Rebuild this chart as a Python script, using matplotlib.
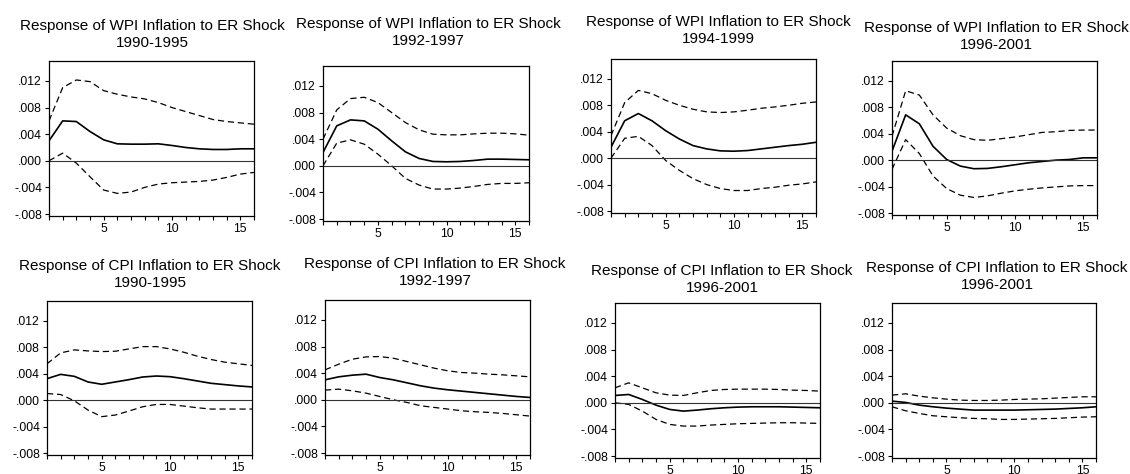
import numpy as np
import matplotlib
matplotlib.use("Agg")
import matplotlib.pyplot as plt
from matplotlib.ticker import FixedLocator, FuncFormatter

plt.rcParams['font.family'] = ['Liberation Sans', 'DejaVu Sans']

periods = np.arange(1, 17)

titles = [
    "Response of WPI Inflation to ER Shock\n1990-1995",
    "Response of WPI Inflation to ER Shock\n1992-1997",
    "Response of WPI Inflation to ER Shock\n1994-1999",
    "Response of WPI Inflation to ER Shock\n1996-2001",
    "Response of CPI Inflation to ER Shock\n1990-1995",
    "Response of CPI Inflation to ER Shock\n1992-1997",
    "Response of CPI Inflation to ER Shock\n1996-2001",
    "Response of CPI Inflation to ER Shock\n1996-2001",
]

# impulse responses (point estimate, upper band, lower band)
wpi_9095 = [0.0030, 0.0060, 0.0059, 0.0044, 0.00315, 0.00255, 0.0025, 0.0025,
            0.00255, 0.0023, 0.0020, 0.0018, 0.0017, 0.0017, 0.0018, 0.0018]
wpi_9095_hi = [0.0060, 0.0110, 0.01215, 0.0119, 0.01055, 0.0100, 0.0096, 0.0093,
               0.00875, 0.0080, 0.0074, 0.0068, 0.0062, 0.0059, 0.0057, 0.0055]
wpi_9095_lo = [0.0000, 0.00115, -0.00035, -0.0024, -0.0044, -0.0049, -0.0047, -0.0040,
               -0.0035, -0.0033, -0.0032, -0.0031, -0.0029, -0.0025, -0.0020, -0.00175]

wpi_9297 = [0.0020, 0.0060, 0.0069, 0.00675, 0.0055, 0.00375, 0.0021, 0.0011,
            0.00065, 0.0006, 0.00065, 0.0008, 0.0010, 0.0010, 0.00095, 0.0009]
wpi_9297_hi = [0.0040, 0.0084, 0.0101, 0.0103, 0.0095, 0.0080, 0.0065, 0.0054,
               0.00475, 0.00465, 0.00465, 0.0048, 0.0049, 0.0049, 0.0048, 0.0046]
wpi_9297_lo = [0.0000, 0.0034, 0.0039, 0.00325, 0.00175, 0.0000, -0.0019, -0.0029,
               -0.0035, -0.0035, -0.00335, -0.0031, -0.0028, -0.00265, -0.00265, -0.00255]

wpi_9499 = [0.00165, 0.00565, 0.00675, 0.00565, 0.00415, 0.0029, 0.0019, 0.0014,
            0.0011, 0.00105, 0.00115, 0.0014, 0.00165, 0.0019, 0.0021, 0.0024]
wpi_9499_hi = [0.0034, 0.0084, 0.01025, 0.00975, 0.00875, 0.0080, 0.0074, 0.0070,
               0.0069, 0.0070, 0.00725, 0.00755, 0.00775, 0.0080, 0.0083, 0.0085]
wpi_9499_lo = [0.0000, 0.0030, 0.0033, 0.0019, -0.00035, -0.00185, -0.0031, -0.0040,
               -0.0046, -0.0049, -0.0049, -0.0046, -0.0044, -0.0041, -0.0039, -0.0036]

wpi_9601 = [0.00135, 0.00685, 0.0055, 0.0021, 0.0001, -0.0009, -0.0013, -0.00125,
            -0.0010, -0.0007, -0.0004, -0.0002, 0.0000, 0.0001, 0.00035, 0.00035]
wpi_9601_hi = [0.0036, 0.0105, 0.00985, 0.00685, 0.00485, 0.0037, 0.0031, 0.0030,
               0.00325, 0.0035, 0.00385, 0.0042, 0.0043, 0.0045, 0.00455, 0.00455]
wpi_9601_lo = [-0.0014, 0.0031, 0.0010, -0.0024, -0.0043, -0.0053, -0.00565, -0.0054,
               -0.0050, -0.00465, -0.0044, -0.0042, -0.00405, -0.0039, -0.00385, -0.00385]

cpi_9095 = [0.00325, 0.0039, 0.0036, 0.00275, 0.0024, 0.00275, 0.0031, 0.0035,
            0.00365, 0.00355, 0.00325, 0.0029, 0.00255, 0.00235, 0.00215, 0.0020]
cpi_9095_hi = [0.0055, 0.00715, 0.0076, 0.00745, 0.00735, 0.0074, 0.00775, 0.0081,
               0.0081, 0.00775, 0.00725, 0.00665, 0.00615, 0.00575, 0.0055, 0.00525]
cpi_9095_lo = [0.0010, 0.00085, -0.0001, -0.0015, -0.0025, -0.00225, -0.00165, -0.0010,
               -0.00065, -0.00065, -0.0009, -0.00115, -0.00135, -0.00135, -0.00135, -0.00135]

cpi_9297 = [0.0030, 0.00345, 0.0037, 0.00385, 0.00335, 0.0030, 0.00255, 0.0021,
            0.00175, 0.0015, 0.0013, 0.0011, 0.0009, 0.0007, 0.0005, 0.00035]
cpi_9297_hi = [0.0045, 0.00535, 0.0061, 0.00645, 0.0065, 0.00625, 0.00575, 0.00525,
               0.00475, 0.00435, 0.0041, 0.0040, 0.00385, 0.00375, 0.0036, 0.00345]
cpi_9297_lo = [0.00145, 0.0016, 0.00135, 0.0010, 0.0005, 0.0000, -0.0004, -0.0009,
               -0.00115, -0.0014, -0.00165, -0.0018, -0.0019, -0.00205, -0.00225, -0.00245]

cpi_9601a = [0.0011, 0.00125, 0.0005, -0.00035, -0.0010, -0.00125, -0.0011, -0.0009,
             -0.00075, -0.00065, -0.0006, -0.0006, -0.0006, -0.00065, -0.0007, -0.00075]
cpi_9601a_hi = [0.00225, 0.0030, 0.00225, 0.0015, 0.00115, 0.0011, 0.0015, 0.00185,
                0.0020, 0.00205, 0.00205, 0.00205, 0.0020, 0.0019, 0.00185, 0.00175]
cpi_9601a_lo = [0.0000, -0.00025, -0.00125, -0.0025, -0.00325, -0.0035, -0.0035, -0.00335,
                -0.00325, -0.00315, -0.0031, -0.00305, -0.0030, -0.0030, -0.00305, -0.0031]

cpi_9601b = [0.00025, 0.00005, -0.00035, -0.0006, -0.0008, -0.00095, -0.0011, -0.0011,
             -0.0011, -0.0011, -0.00105, -0.0010, -0.00095, -0.00085, -0.00075, -0.0006]
cpi_9601b_hi = [0.00115, 0.00135, 0.0010, 0.00075, 0.00055, 0.0004, 0.00035, 0.00035,
                0.0004, 0.0005, 0.00055, 0.0006, 0.0007, 0.0008, 0.0009, 0.0009]
cpi_9601b_lo = [-0.0006, -0.0012, -0.0016, -0.00195, -0.0021, -0.00225, -0.00235, -0.0024,
                -0.0025, -0.0025, -0.00245, -0.0024, -0.00235, -0.00225, -0.00215, -0.0021]

responses = [wpi_9095, wpi_9297, wpi_9499, wpi_9601, cpi_9095, cpi_9297, cpi_9601a, cpi_9601b]
uppers = [wpi_9095_hi, wpi_9297_hi, wpi_9499_hi, wpi_9601_hi,
          cpi_9095_hi, cpi_9297_hi, cpi_9601a_hi, cpi_9601b_hi]
lowers = [wpi_9095_lo, wpi_9297_lo, wpi_9499_lo, wpi_9601_lo,
          cpi_9095_lo, cpi_9297_lo, cpi_9601a_lo, cpi_9601b_lo]
y_ticks = [-0.008, -0.004, 0.0, 0.004, 0.008, 0.012]

# layout in pixels: axes box (left, top, right, bottom), title centre x, title baseline y
W, H = 1130, 474
boxes = [(49, 61, 254, 216), (323, 66, 529, 221), (611, 59, 816, 213), (892, 61, 1097, 215),
         (47, 301, 252, 455), (325, 300, 530, 455), (615, 303, 820, 458), (892, 303, 1096, 458)]
title_x = [152, 428, 718, 996, 150, 435, 722, 997]
title_y = [47, 45, 43, 49, 287, 285, 292, 289]


def fmt(v, pos):
    s = "%.3f" % v
    return s.replace("0.", ".").replace("-.000", ".000")


fig = plt.figure(figsize=(W / 100, H / 100), dpi=100)

for i in range(8):
    l, t, r, b = boxes[i]
    ax = fig.add_axes([l / W, 1 - b / H, (r - l) / W, (b - t) / H])
    ax.plot(periods, responses[i], color="black", lw=1.2)
    ax.plot(periods, uppers[i], color="black", lw=0.9, ls=(0, (5, 3)))
    ax.plot(periods, lowers[i], color="black", lw=0.9, ls=(0, (5, 3)))
    ax.axhline(0, color="#333333", lw=0.8)
    ax.set_xlim(1, 16)
    ax.set_ylim(-0.0083, 0.015)
    ax.yaxis.set_major_locator(FixedLocator(y_ticks))
    ax.yaxis.set_major_formatter(FuncFormatter(fmt))
    ax.xaxis.set_major_locator(FixedLocator([5, 10, 15]))
    ax.xaxis.set_minor_locator(FixedLocator(list(periods)))
    ax.tick_params(axis="both", which="both", direction="out", length=3, width=0.8,
                   labelsize=8.7, pad=2)
    for sp in ax.spines.values():
        sp.set_linewidth(0.9)
    fig.text(title_x[i] / W, 1 - title_y[i] / H, titles[i], ha="center", va="baseline",
             fontsize=11.0, linespacing=1.28)

fig.savefig("out.png", dpi=100)
